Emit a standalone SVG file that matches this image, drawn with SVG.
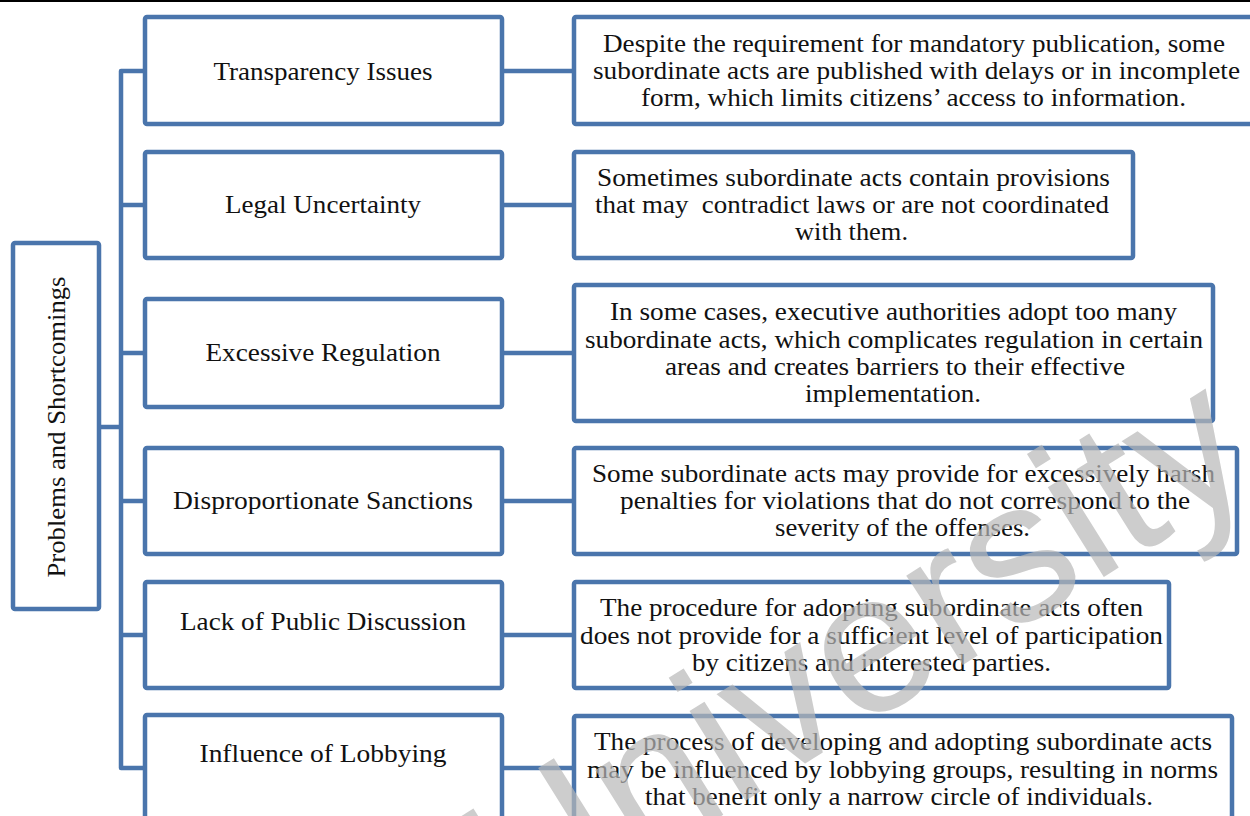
<svg xmlns="http://www.w3.org/2000/svg" width="1250" height="816" viewBox="0 0 1250 816">
<style>
.box{fill:#fff;stroke:#4A75AC;stroke-width:4.5}
.con{fill:none;stroke:#4A75AC;stroke-width:4.5;stroke-linejoin:round}
.t{font-family:'Liberation Serif','Times New Roman',serif;font-size:26px;fill:#111;text-anchor:middle}
.wm{font-family:'Liberation Sans',Arial,sans-serif;font-size:200px;fill:#b8b8b8;opacity:0.7;text-anchor:end}
</style>
<rect x="0" y="0" width="1250" height="816" fill="#fff"/>
<rect x="0" y="0" width="1250" height="2" fill="#000"/>
<g id="connectors">
<path class="con" d="M145,71 H121 V768 H145"/>
<path class="con" d="M99,427 H121"/>
<path class="con" d="M121,205 H145 M121,353 H145 M121,501 H145 M121,635 H145"/>
<path class="con" d="M502,71 H574 M502,205 H574 M502,353 H574 M502,501 H574 M502,635 H574 M502,768 H574"/>
</g>
<g id="root">
<rect class="box" x="13" y="243" width="86" height="366" rx="2"/>
<text class="t" transform="translate(65,427) rotate(-90)" textLength="301" lengthAdjust="spacingAndGlyphs">Problems and Shortcomings</text>
</g>
<g id="n1">
<rect class="box" x="145" y="17" width="357" height="107" rx="2"/>
<text class="t" x="323" y="80" textLength="219" lengthAdjust="spacingAndGlyphs">Transparency Issues</text>
</g>
<g id="n2">
<rect class="box" x="145" y="152" width="357" height="106" rx="2"/>
<text class="t" x="323" y="213" textLength="196" lengthAdjust="spacingAndGlyphs">Legal Uncertainty</text>
</g>
<g id="n3">
<rect class="box" x="145" y="299" width="357" height="108" rx="2"/>
<text class="t" x="323" y="361" textLength="235" lengthAdjust="spacingAndGlyphs">Excessive Regulation</text>
</g>
<g id="n4">
<rect class="box" x="145" y="448" width="357" height="106" rx="2"/>
<text class="t" x="323" y="509" textLength="300" lengthAdjust="spacingAndGlyphs">Disproportionate Sanctions</text>
</g>
<g id="n5">
<rect class="box" x="145" y="582" width="357" height="106" rx="2"/>
<text class="t" x="323" y="630" textLength="286" lengthAdjust="spacingAndGlyphs">Lack of Public Discussion</text>
</g>
<g id="n6">
<rect class="box" x="145" y="715" width="357" height="110" rx="2"/>
<text class="t" x="323" y="762" textLength="247" lengthAdjust="spacingAndGlyphs">Influence of Lobbying</text>
</g>
<g id="d1">
<rect class="box" x="574" y="17" width="680" height="107" rx="2"/>
<text class="t" x="914" y="52" textLength="622" lengthAdjust="spacingAndGlyphs">Despite the requirement for mandatory publication, some</text>
<text class="t" x="916.5" y="79" textLength="647" lengthAdjust="spacingAndGlyphs">subordinate acts are published with delays or in incomplete</text>
<text class="t" x="913.5" y="106" textLength="545" lengthAdjust="spacingAndGlyphs">form, which limits citizens’ access to information.</text>
</g>
<g id="d2">
<rect class="box" x="574" y="152" width="559" height="106" rx="2"/>
<text class="t" x="853.5" y="186" textLength="513" lengthAdjust="spacingAndGlyphs">Sometimes subordinate acts contain provisions</text>
<text class="t" x="852" y="213" textLength="514" lengthAdjust="spacingAndGlyphs" xml:space="preserve">that may  contradict laws or are not coordinated</text>
<text class="t" x="851.5" y="240" textLength="113" lengthAdjust="spacingAndGlyphs">with them.</text>
</g>
<g id="d3">
<rect class="box" x="574" y="285" width="639" height="136" rx="2"/>
<text class="t" x="893.5" y="320" textLength="567" lengthAdjust="spacingAndGlyphs">In some cases, executive authorities adopt too many</text>
<text class="t" x="894" y="348" textLength="618" lengthAdjust="spacingAndGlyphs">subordinate acts, which complicates regulation in certain</text>
<text class="t" x="895" y="375" textLength="460" lengthAdjust="spacingAndGlyphs">areas and creates barriers to their effective</text>
<text class="t" x="893" y="402" textLength="176" lengthAdjust="spacingAndGlyphs">implementation.</text>
</g>
<g id="d4">
<rect class="box" x="574" y="448" width="663" height="106" rx="2"/>
<text class="t" x="903.5" y="482" textLength="623" lengthAdjust="spacingAndGlyphs">Some subordinate acts may provide for excessively harsh</text>
<text class="t" x="905" y="509" textLength="570" lengthAdjust="spacingAndGlyphs">penalties for violations that do not correspond to the</text>
<text class="t" x="902.5" y="536" textLength="255" lengthAdjust="spacingAndGlyphs">severity of the offenses.</text>
</g>
<g id="d5">
<rect class="box" x="574" y="582" width="595" height="106" rx="2"/>
<text class="t" x="871.5" y="616" textLength="543" lengthAdjust="spacingAndGlyphs">The procedure for adopting subordinate acts often</text>
<text class="t" x="871.5" y="644" textLength="583" lengthAdjust="spacingAndGlyphs">does not provide for a sufficient level of participation</text>
<text class="t" x="871.5" y="671" textLength="359" lengthAdjust="spacingAndGlyphs">by citizens and interested parties.</text>
</g>
<g id="d6">
<rect class="box" x="574" y="716" width="658" height="110" rx="2"/>
<text class="t" x="903" y="750" textLength="618" lengthAdjust="spacingAndGlyphs">The process of developing and adopting subordinate acts</text>
<text class="t" x="902.5" y="778" textLength="631" lengthAdjust="spacingAndGlyphs">may be influenced by lobbying groups, resulting in norms</text>
<text class="t" x="899" y="805" textLength="508" lengthAdjust="spacingAndGlyphs">that benefit only a narrow circle of individuals.</text>
</g>
<text class="wm" transform="translate(1262,478) rotate(-32)">University</text>
</svg>
